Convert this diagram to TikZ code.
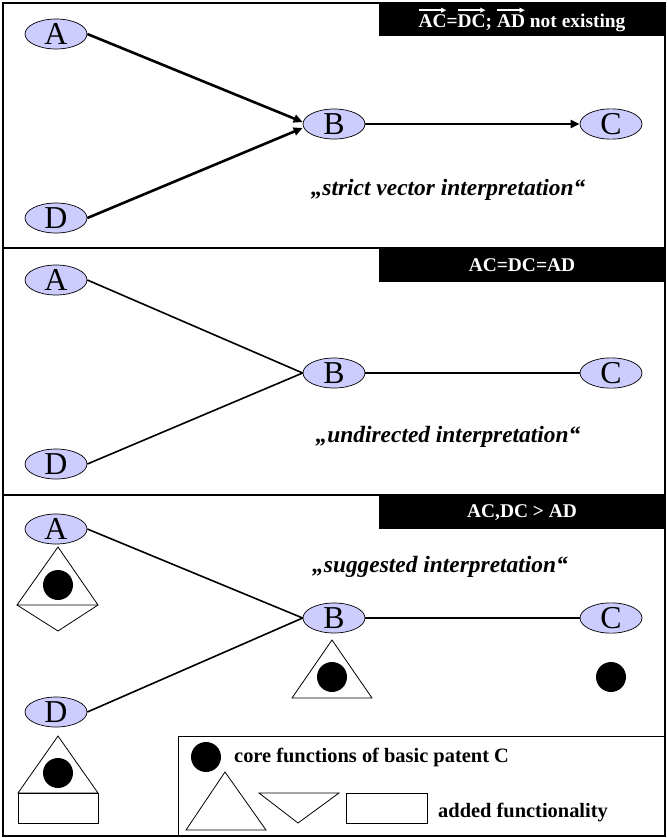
\documentclass[tikz,border=0pt]{standalone}
\usepackage{fontspec}
\setmainfont{Liberation Serif}
\newfontfamily\symfont{DejaVu Sans}
\usetikzlibrary{shapes.geometric,arrows.meta}
\definecolor{nodefill}{RGB}{204,204,255}
\newcommand{\vecword}[1]{\setbox0\hbox{#1}\leavevmode\vbox{\offinterlineskip\hbox to\wd0{\leaders\hrule height 2.8bp depth -1.4bp\hfill\kern-1.5bp{\symfont\fontsize{7}{7}\selectfont ▶}}\kern1.2bp\box0}}
\begin{document}
\begin{tikzpicture}[x=1bp,y=-1bp,
  vnode/.style={ellipse,draw=black,line width=0.7bp,fill=nodefill,minimum width=62bp,minimum height=30bp,inner sep=0pt,font=\fontsize{32}{32}\selectfont},
  labelbox/.style={fill=black,text=white,inner sep=0pt,minimum width=286bp,minimum height=33bp,font=\bfseries\fontsize{19.5}{19.5}\selectfont},
  interp/.style={font=\bfseries\itshape\fontsize{23.5}{23.5}\selectfont,inner sep=0pt},
  legtext/.style={font=\bfseries\fontsize{20.5}{20.5}\selectfont,inner sep=0pt,anchor=west},
  strongarrow/.style={line width=2.6bp,-{Triangle[length=9bp,width=8bp]}},
  plainline/.style={line width=1.6bp},
  shapeline/.style={line width=0.8bp},
  dot/.style={fill=black}]
\useasboundingbox (0,0) rectangle (667,838);
% frame
\draw[line width=1.5bp] (3,3) rectangle (665,836);
\draw[line width=1.5bp] (3,248) -- (665,248);
\draw[line width=1.5bp] (3,495) -- (665,495);
% labels
\node[labelbox] (lab1) at (522,19.5) {\vecword{AC}=\vecword{DC}; \vecword{AD} not existing};
\node[labelbox] (lab2) at (522,265.5) {AC=DC=AD};
\node[labelbox] (lab3) at (522,512.5) {AC,DC > AD};
% panel 1
\node[vnode] (A1) at (56,34) {A};
\node[vnode] (D1) at (56,218) {D};
\node[vnode] (B1) at (334,124) {B};
\node[vnode] (C1) at (611,124) {C};
\draw[strongarrow] (A1.east) -- ([yshift=2bp]B1.west);
\draw[strongarrow] (D1.east) -- ([yshift=-4bp]B1.west);
\draw[strongarrow] (B1.east) -- (C1.west);
\node[interp] (t1) at (448,190) {„strict vector interpretation“};
% panel 2
\node[vnode] (A2) at (56,280) {A};
\node[vnode] (D2) at (56,464) {D};
\node[vnode] (B2) at (334,373) {B};
\node[vnode] (C2) at (611,373) {C};
\draw[plainline] (A2.east) -- (B2.west);
\draw[plainline] (D2.east) -- (B2.west);
\draw[plainline] (B2.east) -- (C2.west);
\node[interp] (t2) at (448,437) {„undirected interpretation“};
% panel 3
\node[vnode] (A3) at (56,529) {A};
\node[vnode] (D3) at (56,712) {D};
\node[vnode] (B3) at (334,618) {B};
\node[vnode] (C3) at (611,618) {C};
\draw[plainline] (A3.east) -- (B3.west);
\draw[plainline] (D3.east) -- (B3.west);
\draw[plainline] (B3.east) -- (C3.west);
\node[interp] (t3) at (440,567) {„suggested interpretation“};
% shapes under A
\draw[shapeline] (58,547) -- (17,605) -- (98,605) -- cycle;
\draw[shapeline] (17,605) -- (58,631) -- (98,605);
\fill[dot] (58,585) circle (15);
% shapes under B
\draw[shapeline] (332,640) -- (292,698) -- (372,698) -- cycle;
\fill[dot] (332,677) circle (15);
% under C
\fill[dot] (611,677) circle (15);
% under D
\draw[shapeline] (58,736) -- (18,793) -- (98,793) -- cycle;
\fill[dot] (58,773) circle (15);
\draw[shapeline] (18,793) rectangle (98,823);
% legend
\draw[line width=1bp] (178,736) rectangle (665,836);
\fill[dot] (206,757) circle (15);
\node[legtext] (lg1) at (234,757) {core functions of basic patent C};
\draw[shapeline] (225,772) -- (186,830) -- (266,830) -- cycle;
\draw[shapeline] (259,793) -- (339,793) -- (298,823) -- cycle;
\draw[shapeline] (346,793) rectangle (427,823);
\node[legtext] (lg2) at (438,813) {added functionality};
\end{tikzpicture}
\end{document}
